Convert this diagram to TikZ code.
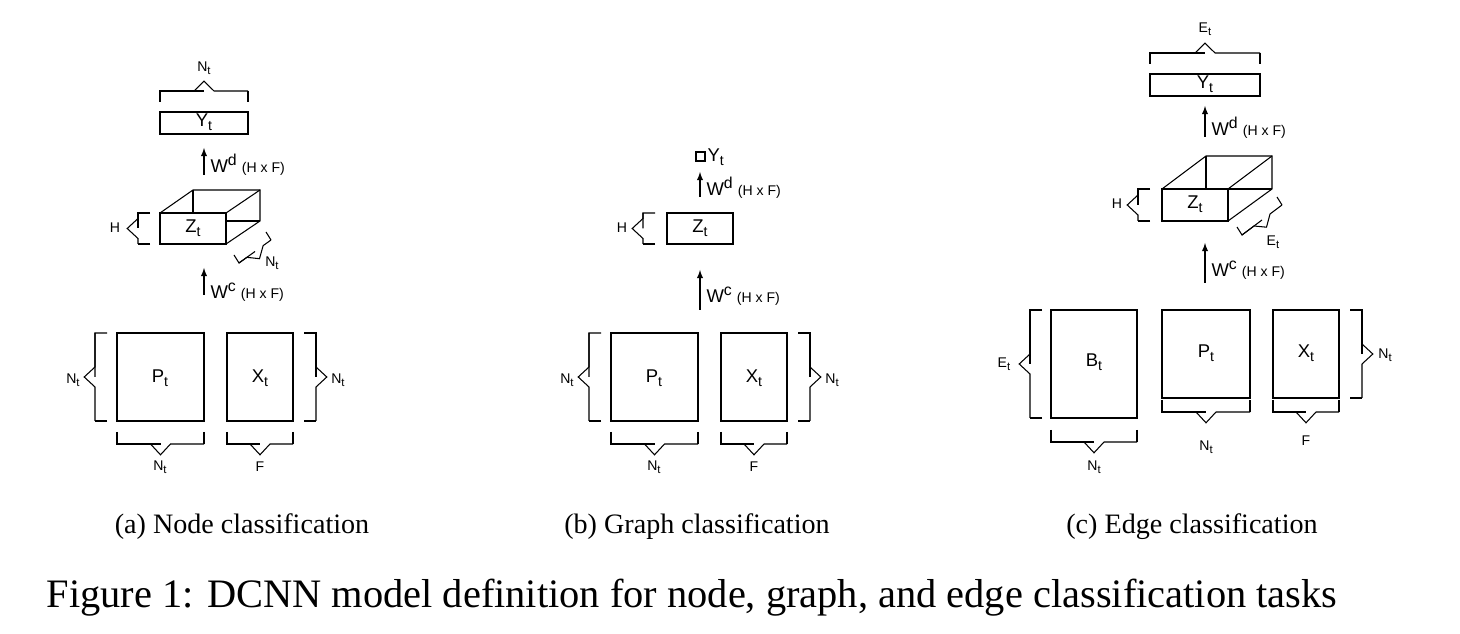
\documentclass[tikz,border=0pt]{standalone}
\usepackage{fontspec}
\setmainfont{Liberation Serif}
\newfontfamily\lsans{Liberation Sans}
\usetikzlibrary{calc}
\newcommand\abr[3]{%
 \draw (#1) -- ($(#1)+(#3)$) coordinate (p1) -- ($($(#1)!0.5!(#2)$)+(#3)$) coordinate (mm);
 \draw (#2) -- ($(#2)+(#3)$) coordinate (p2);
 \draw (p1) -- ($(mm)!0.2cm!(p1)$) -- ($(mm)+0.9*(#3)$) -- ($(mm)!0.2cm!(p2)$) -- (p2);}
\newcommand\sub[1]{\raisebox{-0.35ex}{\fontsize{8}{9}\selectfont #1}}
\begin{document}
\begin{tikzpicture}[x=0.02cm,y=-0.02cm,line width=0.6pt,
 sm/.style={font=\lsans\fontsize{8}{9}\selectfont,inner sep=0pt},
 md/.style={font=\lsans\fontsize{10.5}{12}\selectfont,inner sep=0pt},
 capt/.style={font=\fontsize{16}{18}\selectfont,inner sep=0pt},
 arr/.style={-latex}]
\useasboundingbox (0,0) rectangle (1460,634);
\newcommand\lab[2]{#1\raisebox{-0.4ex}{\fontsize{8}{9}\selectfont #2}}
\newcommand\slab[2]{#1\raisebox{-0.4ex}{\fontsize{6.5}{7}\selectfont #2}}
\newcommand\wlab[1]{W\raisebox{0.7ex}{\fontsize{9}{10}\selectfont #1} {\fontsize{8}{9}\selectfont (H x F)}}
% ---------- (a)
\draw (160,112) rectangle (248,134); \node[md] at (204,122) {\lab{Y}{t}};
\abr{160,102}{248,102}{0,-11}
\node[sm] at (204,68) {\slab{N}{t}};
\draw[arr] (204,175) -- (204,148);
\node[md,anchor=west] at (210,165) {\wlab{d}};
\draw (160,213) rectangle (226,244); \node[md] at (193,228) {\lab{Z}{t}};
\draw (160,213) -- (193,190) -- (260,190) -- (260,221) -- (226,244);
\draw (226,213) -- (260,190); \draw (193,190) -- (193,213); \draw (226,221) -- (260,221);
\abr{150,213}{150,244}{-12,0}
\node[sm] at (115,228) {H};
\abr{234,255}{266,232}{5,8}
\node[sm] at (272,263) {\slab{N}{t}};
\draw[arr] (204,295) -- (204,268);
\node[md,anchor=west] at (210,292) {\wlab{c}};
\draw (117,333) rectangle (204,421); \node[md] at (160,378) {\lab{P}{t}};
\draw (227,333) rectangle (293,421); \node[md] at (260,378) {\lab{X}{t}};
\abr{107,333}{107,421}{-12,0} \node[sm] at (73,380) {\slab{N}{t}};
\abr{304,333}{304,421}{12,0} \node[sm] at (338,380) {\slab{N}{t}};
\abr{117,432}{204,432}{0,12} \node[sm] at (160,467) {\slab{N}{t}};
\abr{227,432}{293,432}{0,12} \node[sm] at (260,467) {F};
\node[capt] at (242,527) {(a) Node classification};
% ---------- (b)
\draw (696,152) rectangle (705,161); \node[md,anchor=west] at (707,157) {\lab{Y}{t}};
\draw[arr] (700,197) -- (700,172);
\node[md,anchor=west] at (706,188) {\wlab{d}};
\draw (667,213) rectangle (733,244); \node[md] at (700,228) {\lab{Z}{t}};
\abr{655,213}{655,244}{-12,0} \node[sm] at (622,228) {H};
\draw[arr] (700,310) -- (700,270);
\node[md,anchor=west] at (706,296) {\wlab{c}};
\draw (611,333) rectangle (698,421); \node[md] at (654,378) {\lab{P}{t}};
\draw (721,333) rectangle (787,421); \node[md] at (754,378) {\lab{X}{t}};
\abr{601,333}{601,421}{-12,0} \node[sm] at (567,380) {\slab{N}{t}};
\abr{798,333}{798,421}{12,0} \node[sm] at (832,380) {\slab{N}{t}};
\abr{611,432}{698,432}{0,12} \node[sm] at (654,467) {\slab{N}{t}};
\abr{721,432}{787,432}{0,12} \node[sm] at (754,467) {F};
\node[capt] at (697,527) {(b) Graph classification};
% ---------- (c)
\draw (1150,74) rectangle (1260,96); \node[md] at (1205,84) {\lab{Y}{t}};
\abr{1150,64}{1260,64}{0,-11} \node[sm] at (1205,29) {\slab{E}{t}};
\draw[arr] (1205,137) -- (1205,106);
\node[md,anchor=west] at (1211,128) {\wlab{d}};
\draw (1162,189) rectangle (1228,221); \node[md] at (1195,204) {\lab{Z}{t}};
\draw (1162,189) -- (1206,156) -- (1272,156) -- (1272,189) -- (1228,221);
\draw (1228,189) -- (1272,156); \draw (1206,156) -- (1206,189); \draw (1228,189) -- (1272,189);
\abr{1150,189}{1150,221}{-12,0} \node[sm] at (1117,204) {H};
\abr{1237,227}{1277,197}{5,8}
\node[sm] at (1273,242) {\slab{E}{t}};
\draw[arr] (1205,283) -- (1205,243);
\node[md,anchor=west] at (1211,270) {\wlab{c}};
\draw (1051,310) rectangle (1137,418); \node[md] at (1094,362) {\lab{B}{t}};
\draw (1162,310) rectangle (1250,398); \node[md] at (1206,353) {\lab{P}{t}};
\draw (1273,310) rectangle (1339,398); \node[md] at (1306,353) {\lab{X}{t}};
\abr{1042,310}{1042,418}{-12,0} \node[sm] at (1004,364) {\slab{E}{t}};
\abr{1350,310}{1350,398}{12,0} \node[sm] at (1385,355) {\slab{N}{t}};
\abr{1051,430}{1137,430}{0,12} \node[sm] at (1094,467) {\slab{N}{t}};
\abr{1162,400}{1250,400}{0,12} \node[sm] at (1206,447) {\slab{N}{t}};
\abr{1273,400}{1339,400}{0,12} \node[sm] at (1306,441) {F};
\node[capt] at (1192,527) {(c) Edge classification};
\node[font=\fontsize{23}{25}\selectfont,inner sep=0pt] at (692,598) {Figure 1: DCNN model definition for node, graph, and edge classification tasks};
\end{tikzpicture}
\end{document}
